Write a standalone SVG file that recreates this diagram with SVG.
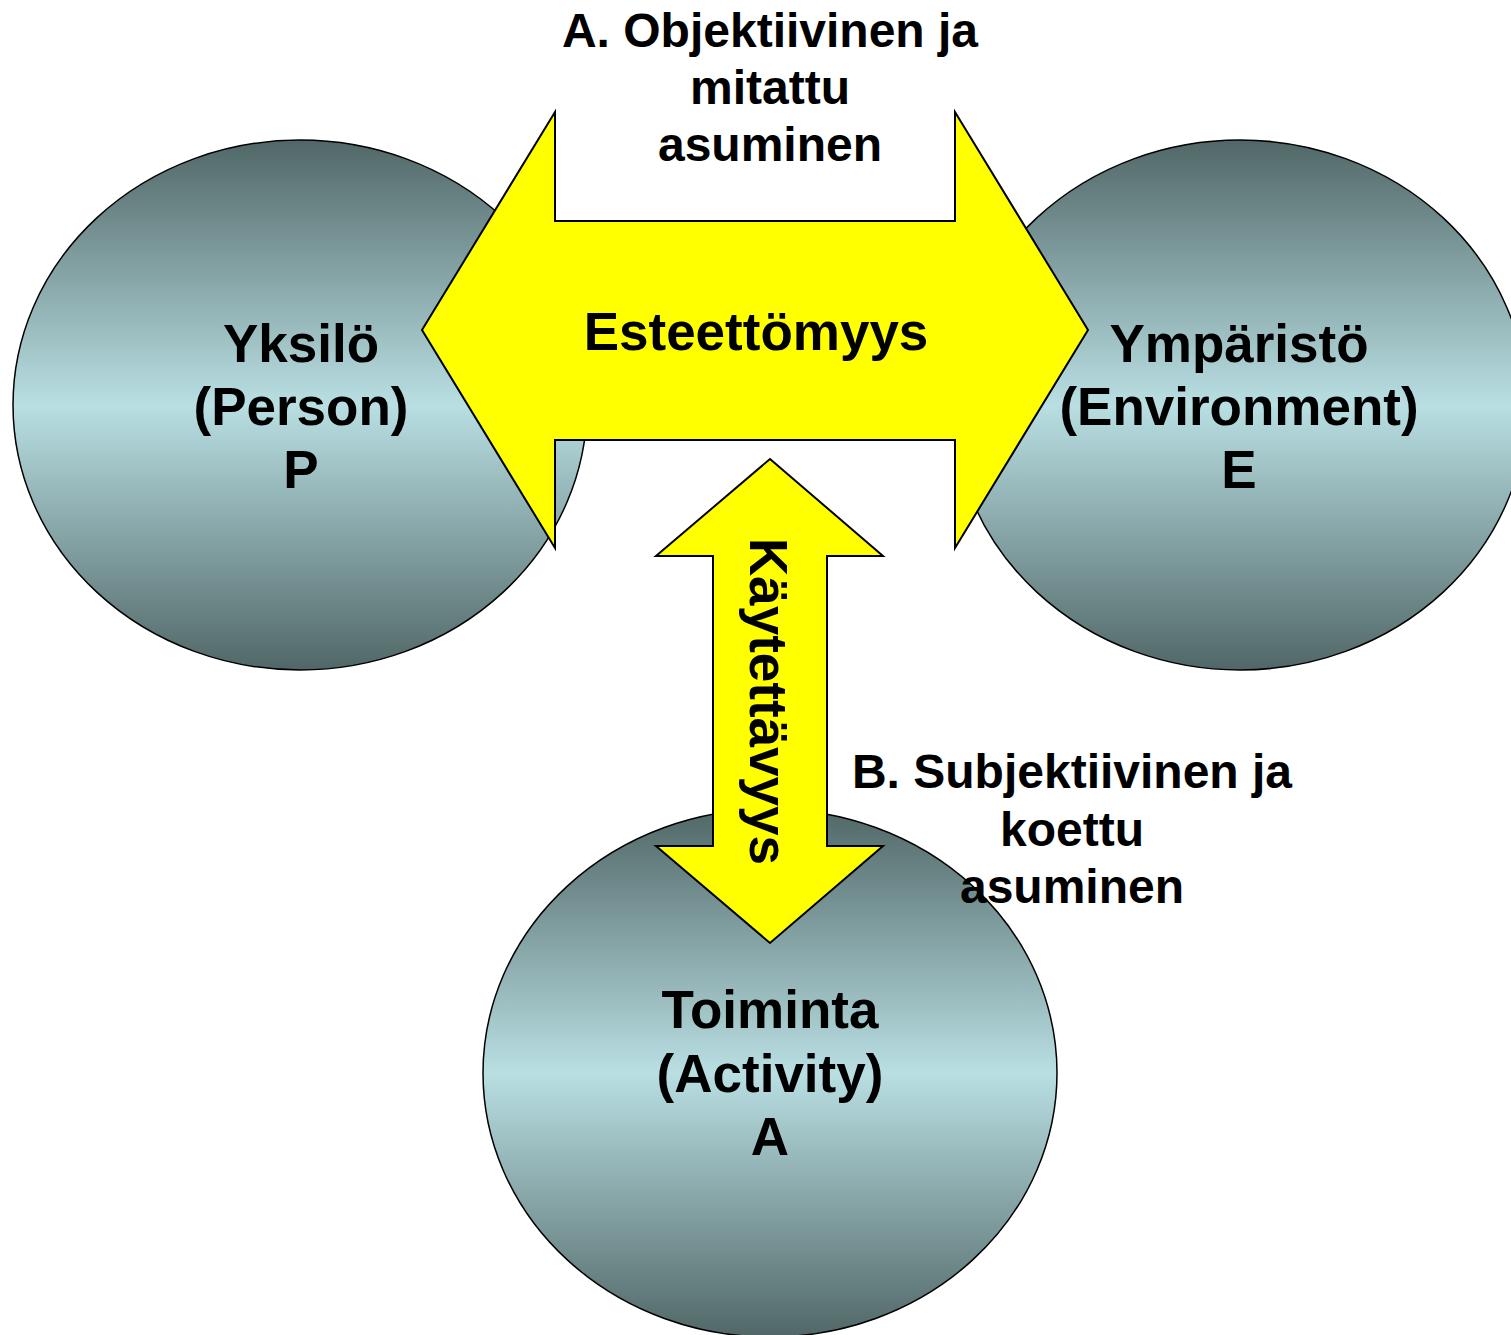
<svg xmlns="http://www.w3.org/2000/svg" width="1511" height="1335" viewBox="0 0 1511 1335">
  <defs>
    <linearGradient id="sphere" x1="0" y1="0" x2="0" y2="1">
      <stop offset="0" stop-color="#516767"/>
      <stop offset="0.5" stop-color="#B9DFE3"/>
      <stop offset="1" stop-color="#516767"/>
    </linearGradient>
    <style>
      .node { fill: url(#sphere); stroke: #000; stroke-width: 1.5; }
      .arrow { fill: #FFFF00; stroke: #000; stroke-width: 2; stroke-linejoin: miter; }
      text { font-family: "Liberation Sans", Arial, sans-serif; font-weight: bold; fill: #000; text-anchor: middle; }
      .big { font-size: 53px; }
      .lbl { font-size: 48px; }
    </style>
  </defs>
  <rect width="1511" height="1335" fill="#FFFFFF"/>

  <g id="node-person">
    <ellipse class="node" cx="300" cy="405" rx="287" ry="265"/>
  </g>
  <g id="node-environment">
    <ellipse class="node" cx="1240" cy="405" rx="287" ry="265"/>
  </g>
  <g id="node-activity">
    <ellipse class="node" cx="770" cy="1073" rx="287" ry="264"/>
  </g>

  <g id="connectors">
    <polygon id="arrow-esteettomyys" class="arrow" points="422,330 555,112 555,221 955,221 955,112 1088,330 955,548 955,440 555,440 555,548"/>
    <polygon id="arrow-kaytettavyys" class="arrow" points="770,459 883,556 827,556 827,846 883,846 770,943 656,846 713,846 713,556 656,556"/>
  </g>

  <g id="labels-person">
    <text class="big" x="301" y="362">Yksilö</text>
    <text class="big" x="301" y="425">(Person)</text>
    <text class="big" x="301" y="488">P</text>
  </g>
  <g id="labels-environment">
    <text class="big" x="1239" y="362">Ympäristö</text>
    <text class="big" x="1239" y="425">(Environment)</text>
    <text class="big" x="1239" y="488">E</text>
  </g>
  <g id="labels-activity">
    <text class="big" x="770" y="1028">Toiminta</text>
    <text class="big" x="770" y="1092">(Activity)</text>
    <text class="big" x="770" y="1155">A</text>
  </g>

  <g id="connector-labels">
    <text class="big" x="756" y="350">Esteettömyys</text>
    <text class="big" transform="translate(750,701.5) rotate(90)" x="0" y="0">Käytettävyys</text>
  </g>

  <g id="label-a">
    <text class="lbl" x="770" y="47">A. Objektiivinen ja</text>
    <text class="lbl" x="770" y="104">mitattu</text>
    <text class="lbl" x="770" y="161">asuminen</text>
  </g>
  <g id="label-b">
    <text class="lbl" x="1072" y="788">B. Subjektiivinen ja</text>
    <text class="lbl" x="1072" y="846">koettu</text>
    <text class="lbl" x="1072" y="903">asuminen</text>
  </g>
</svg>
